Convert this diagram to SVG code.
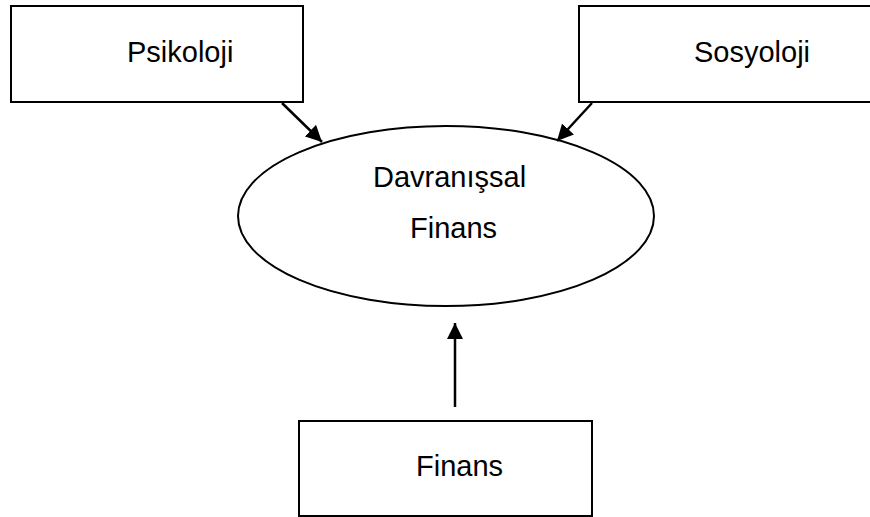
<svg xmlns="http://www.w3.org/2000/svg" width="870" height="517" viewBox="0 0 870 517">
<defs>
<style>
.box{fill:#fff;stroke:#000;stroke-width:2}
.lbl{font-family:"Liberation Sans",Arial,sans-serif;font-size:29px;fill:#000}
.conn{stroke:#000;stroke-width:2.5;fill:none;marker-end:url(#ah)}
</style>
<marker id="ah" viewBox="0 0 10 10" refX="10" refY="5" markerWidth="6.5" markerHeight="6.5" markerUnits="strokeWidth" orient="auto">
<path d="M0,0 L10,5 L0,10 z" fill="#000"/>
</marker>
</defs>
<rect width="870" height="517" fill="#fff"/>
<g id="psikoloji">
<rect class="box" x="11" y="6" width="292" height="96"/>
<text class="lbl" x="127" y="62">Psikoloji</text>
</g>
<g id="sosyoloji">
<rect class="box" x="579" y="6" width="300" height="96"/>
<text class="lbl" x="694" y="62">Sosyoloji</text>
</g>
<g id="davranissal-finans">
<ellipse class="box" cx="446" cy="216" rx="208" ry="90"/>
<text class="lbl" x="373" y="187">Davranışsal</text>
<text class="lbl" x="410" y="238">Finans</text>
</g>
<g id="finans">
<rect class="box" x="299" y="421" width="293" height="95"/>
<text class="lbl" x="416" y="476">Finans</text>
</g>
<g id="connectors">
<line class="conn" x1="282" y1="103" x2="322" y2="142"/>
<line class="conn" x1="592" y1="103" x2="557" y2="141"/>
<line class="conn" x1="455" y1="407" x2="455" y2="323"/>
</g>
</svg>
